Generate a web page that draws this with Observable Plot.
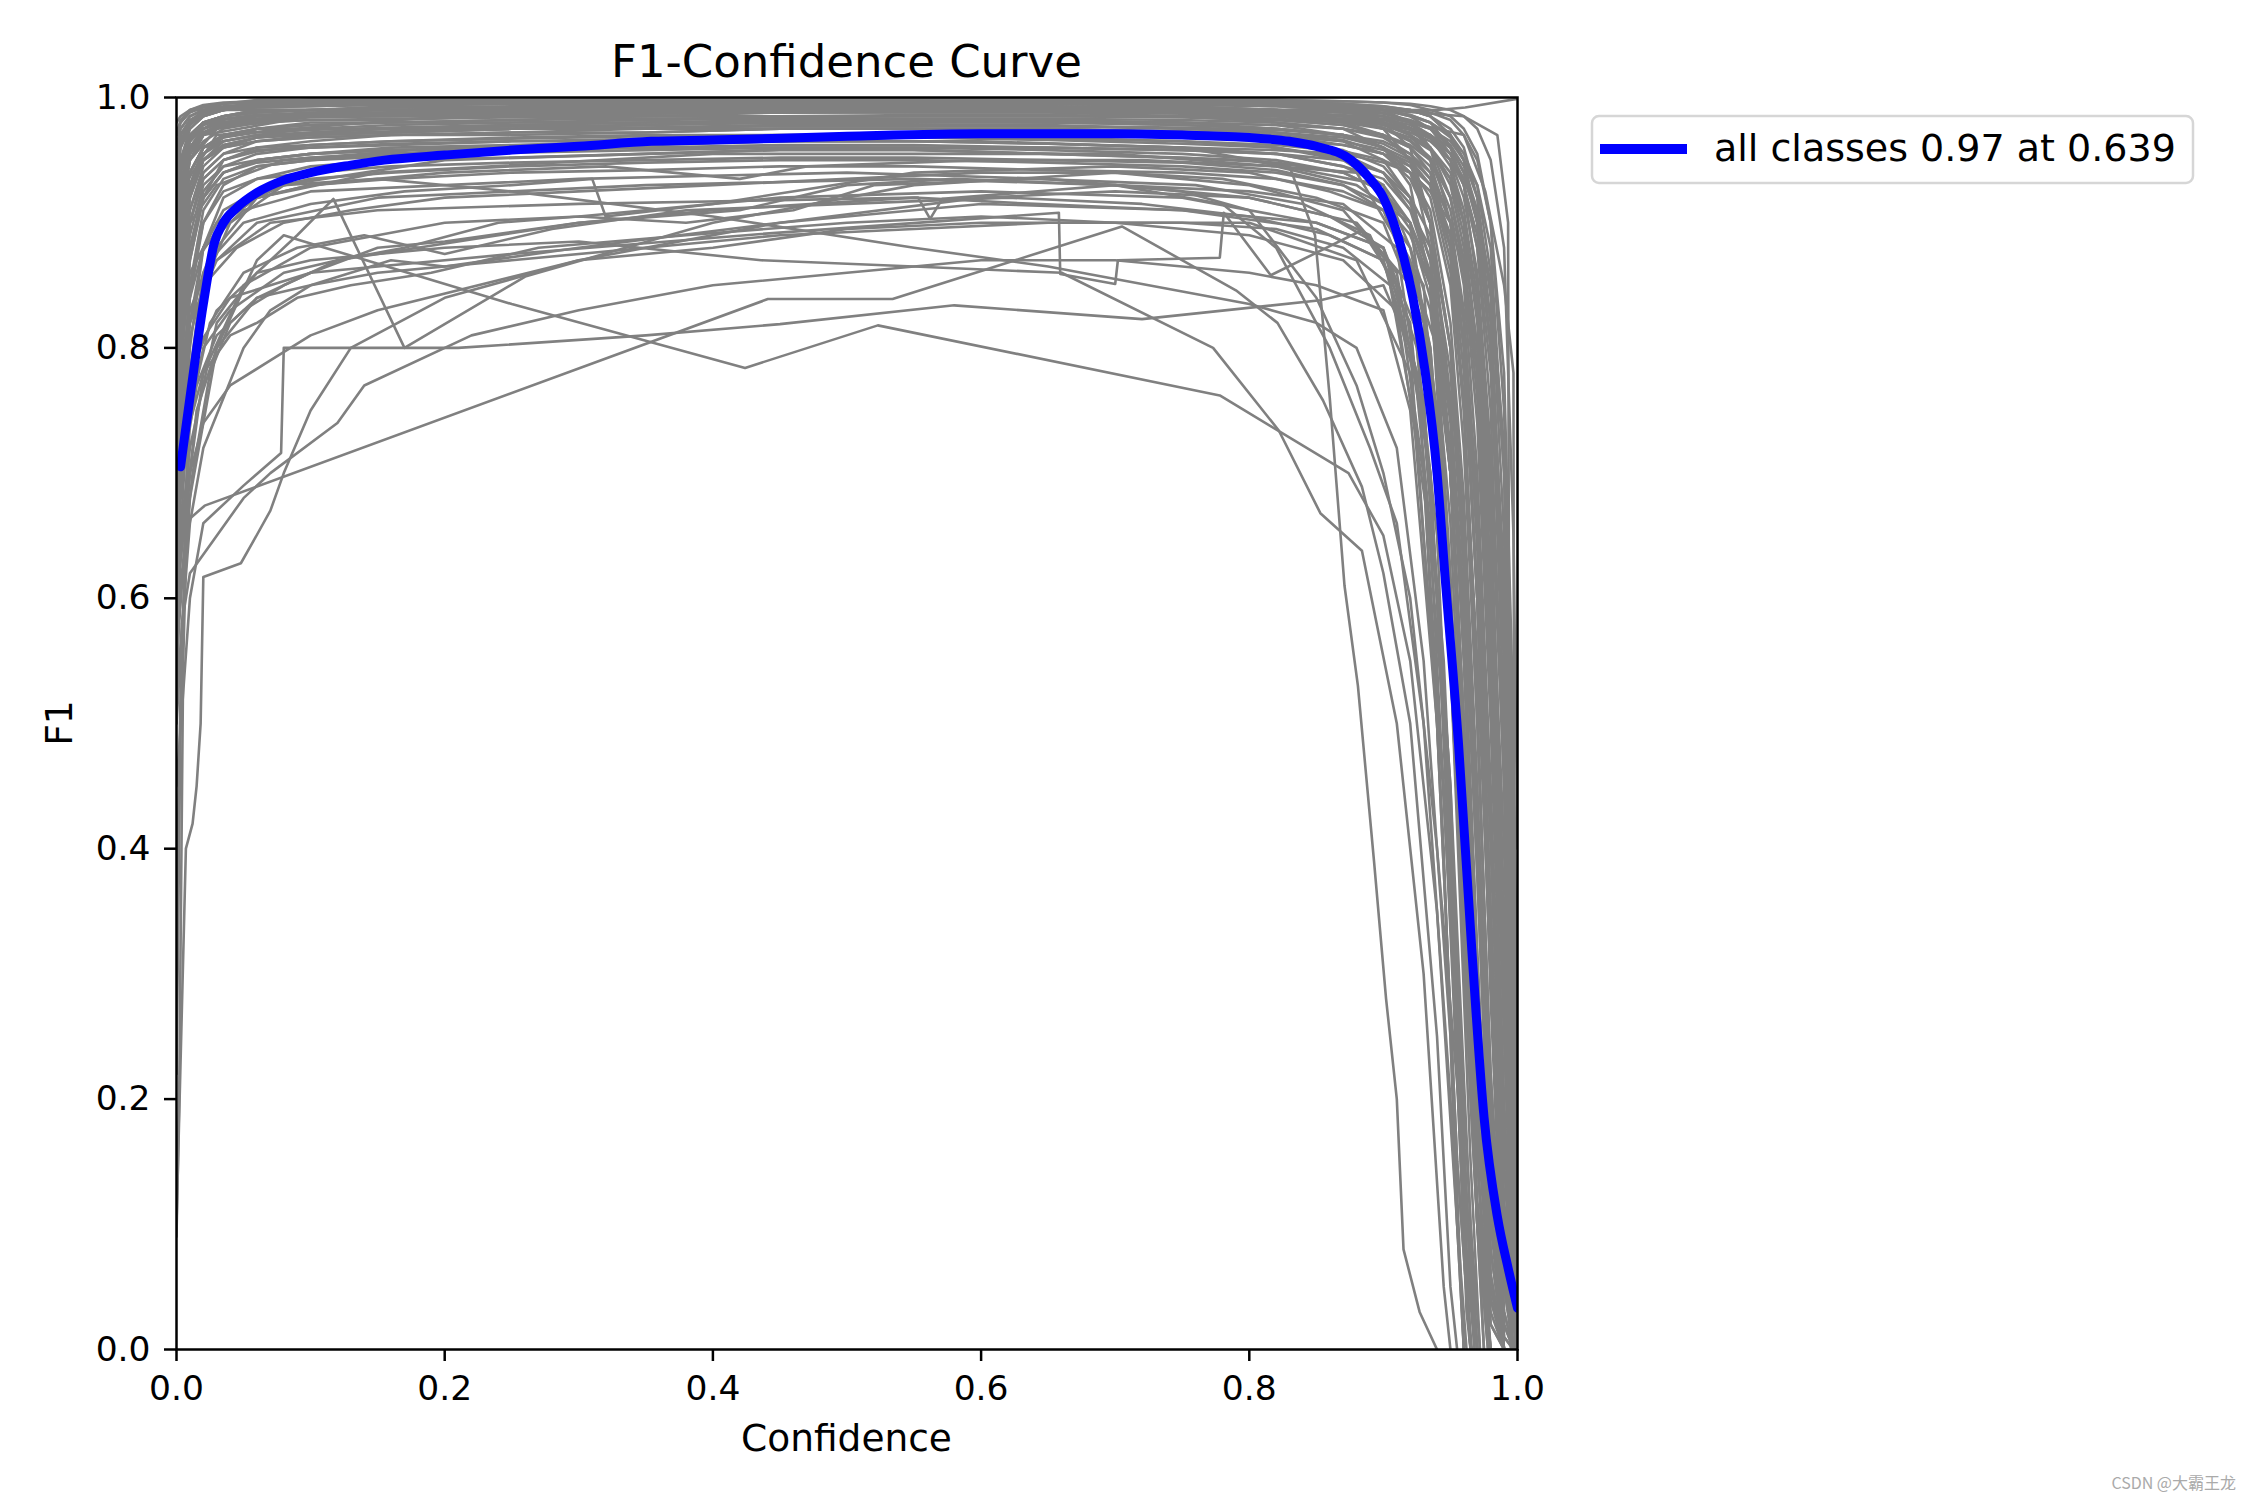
<!DOCTYPE html>
<html>
<head>
<meta charset="utf-8">
<script src="https://cdn.jsdelivr.net/npm/d3@7"></script>
<script src="https://cdn.jsdelivr.net/npm/@observablehq/plot@0.6"></script>
<style>
  html, body { margin: 0; padding: 0; background: #ffffff; }
  #chart svg { display: block; }
</style>
</head>
<body>
<div id="chart"></div>
<script>
// ---------- Data ----------
const xTicks = [0, 0.2, 0.4, 0.6, 0.8, 1.0];
const yTicks = [0, 0.2, 0.4, 0.6, 0.8, 1.0];
const legendLabel = "all classes 0.97 at 0.639";

// "all classes" curve
const allConf = [0.003, 0.01, 0.02, 0.028, 0.035, 0.045, 0.06, 0.08, 0.1, 0.13, 0.155, 0.2, 0.25, 0.3, 0.354, 0.4, 0.5, 0.6, 0.639, 0.7, 0.75, 0.8, 0.83, 0.85, 0.876, 0.89, 0.9, 0.913, 0.922, 0.931, 0.94, 0.946, 0.956, 0.966, 0.975, 0.985, 0.993, 1.0];
const allF1   = [0.705, 0.76, 0.835, 0.883, 0.9, 0.912, 0.924, 0.934, 0.94, 0.946, 0.95, 0.954, 0.958, 0.961, 0.965, 0.966, 0.969, 0.971, 0.971, 0.971, 0.970, 0.968, 0.965, 0.961, 0.95, 0.935, 0.92, 0.881, 0.84, 0.782, 0.70, 0.617, 0.484, 0.318, 0.186, 0.106, 0.065, 0.033];

// per-class curves sampled on a shared confidence grid
const confGrid = [0, 0.003, 0.01, 0.02, 0.035, 0.06, 0.1, 0.16, 0.25, 0.35, 0.45, 0.55, 0.65, 0.75, 0.82, 0.87, 0.9, 0.92, 0.935, 0.95, 0.96, 0.97, 0.98, 0.99, 0.997, 1.0];
const gridClassF1 = [
  [0.95,0.97,0.98,0.99,0.99,0.995,0.995,0.995,0.995,0.995,0.995,0.995,0.995,0.995,0.995,0.99,0.99,0.98,0.96,0.9,0.8,0.6,0.35,0.1,0.02,0],
  [0.9,0.94,0.97,0.98,0.985,0.99,0.99,0.99,0.99,0.992,0.992,0.992,0.992,0.99,0.99,0.985,0.98,0.97,0.95,0.88,0.75,0.5,0.22,0.05,0,0],
  [0.85,0.9,0.95,0.97,0.98,0.985,0.985,0.988,0.99,0.99,0.99,0.99,0.99,0.988,0.985,0.98,0.97,0.95,0.9,0.75,0.55,0.3,0.1,0,0,0],
  [0.97,0.98,0.99,0.99,0.995,0.998,0.998,0.998,0.998,0.998,0.998,0.998,0.998,0.998,0.995,0.995,0.99,0.99,0.985,0.97,0.95,0.9,0.8,0.55,0.2,0.05],
  [0.8,0.88,0.93,0.96,0.97,0.975,0.98,0.98,0.982,0.985,0.985,0.985,0.985,0.985,0.98,0.975,0.96,0.94,0.9,0.8,0.65,0.4,0.15,0.02,0,0],
  [0.75,0.85,0.92,0.95,0.965,0.97,0.975,0.975,0.978,0.98,0.98,0.98,0.982,0.98,0.978,0.97,0.96,0.93,0.85,0.6,0.35,0.12,0,0,0,0],
  [0.92,0.95,0.97,0.975,0.98,0.98,0.985,0.985,0.985,0.985,0.988,0.988,0.988,0.985,0.985,0.98,0.98,0.975,0.97,0.95,0.9,0.78,0.55,0.25,0.05,0],
  [0.7,0.8,0.88,0.92,0.95,0.96,0.965,0.97,0.97,0.972,0.975,0.975,0.975,0.972,0.97,0.965,0.95,0.92,0.85,0.7,0.5,0.25,0.05,0,0,0],
  [0.88,0.93,0.96,0.975,0.985,0.99,0.99,0.993,0.995,0.995,0.995,0.995,0.995,0.993,0.99,0.99,0.985,0.975,0.96,0.93,0.88,0.8,0.65,0.4,0.12,0.02],
  [0.65,0.78,0.87,0.92,0.94,0.95,0.955,0.96,0.962,0.965,0.965,0.968,0.968,0.965,0.96,0.95,0.93,0.88,0.8,0.6,0.4,0.18,0.03,0,0,0],
  [0.93,0.96,0.975,0.985,0.99,0.993,0.995,0.995,0.997,0.997,0.997,0.997,0.997,0.997,0.995,0.993,0.99,0.985,0.98,0.96,0.93,0.85,0.7,0.45,0.15,0.03],
  [0.82,0.9,0.94,0.96,0.97,0.975,0.975,0.978,0.98,0.98,0.982,0.982,0.98,0.98,0.975,0.97,0.96,0.95,0.93,0.86,0.75,0.55,0.3,0.08,0,0],
  [0.6,0.72,0.84,0.9,0.93,0.945,0.95,0.955,0.96,0.96,0.962,0.962,0.96,0.958,0.955,0.945,0.93,0.9,0.85,0.7,0.5,0.28,0.08,0,0,0],
  [0.96,0.975,0.985,0.99,0.992,0.995,0.995,0.997,0.997,0.997,0.998,0.998,0.998,0.997,0.997,0.995,0.993,0.99,0.985,0.975,0.96,0.92,0.82,0.6,0.3,0.08],
  [0.78,0.86,0.92,0.95,0.96,0.965,0.968,0.97,0.972,0.975,0.975,0.975,0.975,0.972,0.97,0.962,0.955,0.94,0.91,0.82,0.68,0.45,0.18,0.02,0,0],
  [0.87,0.92,0.955,0.97,0.978,0.983,0.985,0.985,0.987,0.988,0.99,0.99,0.99,0.988,0.985,0.982,0.975,0.965,0.95,0.91,0.85,0.7,0.45,0.15,0.02,0],
  [0.72,0.82,0.89,0.93,0.945,0.95,0.955,0.958,0.96,0.962,0.965,0.965,0.963,0.96,0.955,0.945,0.935,0.91,0.88,0.78,0.62,0.38,0.12,0,0,0],
  [0.9,0.94,0.965,0.978,0.985,0.988,0.99,0.99,0.99,0.99,0.99,0.99,0.99,0.99,0.99,0.985,0.98,0.97,0.96,0.94,0.9,0.82,0.62,0.3,0.06,0],
  [0.55,0.68,0.8,0.88,0.92,0.935,0.945,0.95,0.952,0.955,0.958,0.958,0.955,0.952,0.948,0.94,0.925,0.9,0.86,0.74,0.55,0.3,0.06,0,0,0],
  [0.94,0.965,0.98,0.988,0.99,0.992,0.993,0.995,0.995,0.995,0.995,0.995,0.995,0.995,0.993,0.99,0.988,0.98,0.97,0.95,0.92,0.86,0.72,0.48,0.2,0.05],
  [0.84,0.9,0.94,0.96,0.965,0.97,0.97,0.972,0.975,0.975,0.978,0.978,0.978,0.975,0.972,0.968,0.96,0.945,0.92,0.85,0.72,0.5,0.22,0.03,0,0],
  [0.68,0.8,0.88,0.92,0.94,0.948,0.952,0.955,0.958,0.96,0.96,0.96,0.96,0.958,0.955,0.95,0.94,0.92,0.89,0.8,0.66,0.42,0.15,0.01,0,0],
  [0.91,0.945,0.97,0.98,0.985,0.99,0.99,0.992,0.992,0.993,0.993,0.993,0.993,0.992,0.99,0.988,0.985,0.975,0.96,0.92,0.86,0.74,0.5,0.18,0.03,0],
  [0.76,0.85,0.91,0.94,0.955,0.96,0.962,0.965,0.968,0.97,0.97,0.97,0.97,0.968,0.965,0.958,0.945,0.92,0.87,0.72,0.5,0.24,0.04,0,0,0],
  [0.98,0.985,0.99,0.993,0.995,0.997,0.998,0.998,0.998,0.999,0.999,0.999,0.999,0.998,0.998,0.997,0.996,0.994,0.99,0.985,0.975,0.955,0.9,0.75,0.45,0.2],
  [0.62,0.75,0.85,0.9,0.925,0.935,0.94,0.945,0.948,0.95,0.952,0.952,0.95,0.948,0.942,0.93,0.91,0.87,0.8,0.6,0.38,0.15,0.02,0,0,0],
  [0.86,0.91,0.95,0.965,0.975,0.98,0.982,0.982,0.985,0.985,0.985,0.985,0.985,0.985,0.982,0.978,0.97,0.96,0.945,0.9,0.82,0.64,0.35,0.08,0,0],
  [0.79,0.87,0.93,0.955,0.965,0.97,0.972,0.975,0.975,0.978,0.98,0.98,0.98,0.978,0.975,0.97,0.965,0.955,0.94,0.9,0.83,0.66,0.4,0.12,0.02,0],
  [0.5,0.65,0.78,0.86,0.9,0.92,0.93,0.935,0.94,0.942,0.945,0.945,0.942,0.94,0.935,0.925,0.91,0.88,0.83,0.7,0.5,0.25,0.05,0,0,0],
  [0.95,0.97,0.982,0.988,0.99,0.993,0.995,0.995,0.995,0.996,0.996,0.996,0.996,0.995,0.994,0.992,0.99,0.985,0.975,0.955,0.93,0.88,0.78,0.55,0.25,0.06],
  [0.73,0.83,0.9,0.935,0.95,0.958,0.96,0.962,0.965,0.965,0.968,0.968,0.966,0.963,0.96,0.952,0.94,0.91,0.86,0.7,0.48,0.2,0.02,0,0,0],
  [0.89,0.93,0.96,0.972,0.98,0.985,0.987,0.988,0.99,0.99,0.99,0.99,0.99,0.988,0.986,0.983,0.978,0.97,0.96,0.935,0.89,0.8,0.6,0.28,0.05,0],
  [0.83,0.89,0.93,0.95,0.96,0.965,0.968,0.97,0.972,0.972,0.975,0.975,0.972,0.97,0.965,0.955,0.94,0.915,0.87,0.75,0.58,0.32,0.08,0,0,0],
  [0.97,0.98,0.988,0.992,0.995,0.996,0.997,0.997,0.997,0.998,0.998,0.998,0.998,0.997,0.996,0.995,0.993,0.99,0.985,0.97,0.95,0.9,0.8,0.62,0.35,0.12],
  [0.58,0.7,0.82,0.88,0.91,0.925,0.935,0.94,0.945,0.948,0.95,0.95,0.948,0.945,0.94,0.93,0.915,0.89,0.85,0.75,0.6,0.38,0.12,0,0,0],
  [0.8,0.88,0.93,0.955,0.968,0.975,0.978,0.98,0.982,0.983,0.984,0.985,0.985,0.984,0.982,0.978,0.97,0.96,0.94,0.88,0.78,0.6,0.32,0.06,0,0],
  [0.9,0.95,0.975,0.985,0.99,0.993,0.995,0.996,0.997,0.997,0.997,0.997,0.997,0.996,0.995,0.99,0.98,0.96,0.9,0.7,0.45,0.2,0.04,0,0,0],
  [0.85,0.92,0.96,0.975,0.982,0.986,0.988,0.99,0.99,0.99,0.99,0.99,0.99,0.99,0.988,0.985,0.98,0.975,0.97,0.96,0.94,0.9,0.8,0.5,0.15,0.03],
  [0.7,0.82,0.9,0.94,0.955,0.965,0.97,0.972,0.975,0.975,0.975,0.975,0.975,0.973,0.97,0.965,0.958,0.948,0.93,0.88,0.8,0.6,0.3,0.05,0,0],
  [0.95,0.97,0.98,0.985,0.99,0.99,0.99,0.992,0.993,0.993,0.995,0.995,0.995,0.993,0.99,0.985,0.975,0.95,0.88,0.62,0.35,0.1,0,0,0,0],
  [0.66,0.78,0.87,0.92,0.94,0.95,0.955,0.958,0.96,0.963,0.965,0.965,0.963,0.96,0.958,0.955,0.948,0.94,0.925,0.89,0.82,0.65,0.35,0.06,0,0],
  [0.88,0.93,0.965,0.98,0.985,0.988,0.99,0.99,0.992,0.992,0.993,0.993,0.993,0.992,0.99,0.988,0.985,0.98,0.975,0.965,0.95,0.93,0.88,0.7,0.35,0.1],
  [0.81,0.89,0.94,0.96,0.97,0.975,0.978,0.98,0.98,0.982,0.983,0.983,0.983,0.982,0.98,0.975,0.968,0.955,0.935,0.87,0.76,0.52,0.2,0.01,0,0],
  [0.74,0.84,0.91,0.945,0.96,0.968,0.972,0.975,0.977,0.978,0.98,0.98,0.98,0.978,0.975,0.97,0.96,0.94,0.9,0.76,0.56,0.3,0.06,0,0,0],
  [0.93,0.96,0.978,0.986,0.99,0.993,0.994,0.995,0.996,0.996,0.997,0.997,0.997,0.996,0.995,0.993,0.99,0.986,0.98,0.97,0.955,0.93,0.86,0.65,0.3,0.08],
  [0.6,0.74,0.85,0.91,0.935,0.945,0.95,0.953,0.956,0.958,0.96,0.96,0.958,0.955,0.95,0.94,0.925,0.895,0.84,0.66,0.42,0.15,0,0,0,0],
  [0.86,0.92,0.955,0.97,0.978,0.982,0.985,0.986,0.988,0.988,0.99,0.99,0.99,0.988,0.986,0.982,0.976,0.966,0.952,0.92,0.87,0.76,0.52,0.2,0.03,0],
  [0.77,0.86,0.92,0.95,0.962,0.968,0.97,0.972,0.975,0.976,0.978,0.978,0.977,0.975,0.972,0.966,0.955,0.935,0.9,0.8,0.64,0.4,0.12,0,0,0],
  [0.96,0.975,0.985,0.99,0.993,0.995,0.996,0.996,0.996,0.997,0.997,0.997,0.997,0.996,0.995,0.994,0.992,0.99,0.988,0.982,0.97,0.95,0.9,0.78,0.5,0.25],
  [0.92,0.95,0.97,0.98,0.985,0.988,0.99,0.99,0.991,0.991,0.992,0.992,0.992,0.991,0.99,0.988,0.985,0.98,0.975,0.96,0.94,0.9,0.82,0.6,0.3,0.1],
  [0.88,0.93,0.96,0.972,0.978,0.982,0.984,0.985,0.986,0.987,0.988,0.988,0.988,0.987,0.985,0.982,0.978,0.972,0.965,0.95,0.93,0.88,0.75,0.45,0.12,0.02],
  [0.83,0.9,0.94,0.96,0.968,0.972,0.974,0.976,0.978,0.98,0.98,0.981,0.981,0.98,0.978,0.975,0.97,0.962,0.95,0.92,0.87,0.78,0.58,0.25,0.04,0],
  [0.94,0.965,0.98,0.986,0.99,0.992,0.993,0.994,0.995,0.995,0.995,0.995,0.995,0.995,0.994,0.992,0.99,0.986,0.98,0.968,0.95,0.92,0.84,0.58,0.2,0.04],
  [0.9,0.94,0.965,0.975,0.98,0.983,0.985,0.986,0.987,0.988,0.988,0.989,0.989,0.988,0.987,0.985,0.982,0.976,0.968,0.945,0.91,0.84,0.68,0.35,0.07,0],
  [0.71,0.82,0.9,0.935,0.95,0.957,0.962,0.965,0.967,0.969,0.97,0.97,0.97,0.968,0.966,0.962,0.955,0.945,0.93,0.89,0.82,0.68,0.42,0.1,0,0],
  [0.97,0.982,0.99,0.994,0.996,0.997,0.998,0.998,0.998,0.998,0.998,0.998,0.998,0.998,0.998,0.997,0.996,0.995,0.993,0.99,0.985,0.975,0.95,0.88,0.65,0.4],
  [0.86,0.92,0.955,0.97,0.977,0.98,0.982,0.983,0.984,0.985,0.985,0.986,0.986,0.985,0.983,0.98,0.975,0.968,0.958,0.935,0.9,0.83,0.66,0.3,0.05,0],
  [0.79,0.87,0.925,0.95,0.962,0.968,0.971,0.973,0.975,0.976,0.977,0.977,0.977,0.976,0.974,0.97,0.963,0.952,0.935,0.89,0.8,0.6,0.28,0.03,0,0],
  [0.95,0.97,0.982,0.988,0.991,0.993,0.994,0.994,0.995,0.995,0.995,0.995,0.995,0.994,0.993,0.99,0.987,0.982,0.976,0.962,0.945,0.91,0.85,0.72,0.45,0.15],
  [0.91,0.945,0.968,0.978,0.983,0.986,0.987,0.988,0.989,0.99,0.99,0.99,0.99,0.989,0.988,0.986,0.983,0.978,0.97,0.955,0.93,0.89,0.8,0.55,0.18,0.02],
  [0.69,0.8,0.88,0.925,0.945,0.955,0.96,0.963,0.965,0.967,0.968,0.968,0.967,0.965,0.962,0.957,0.95,0.94,0.925,0.9,0.86,0.78,0.6,0.3,0.05,0],
  [0.87,0.925,0.958,0.972,0.979,0.983,0.985,0.986,0.987,0.988,0.989,0.989,0.989,0.988,0.986,0.983,0.979,0.974,0.967,0.955,0.935,0.905,0.85,0.7,0.4,0.15]
];

// per-class curves with their own [confidence, F1] points
const pointClassF1 = [
  [[0,0.55],[0.01,0.7],[0.02,0.78],[0.05,0.85],[0.1,0.88],[0.2,0.9],[0.3,0.905],[0.45,0.92],[0.6,0.925],[0.75,0.92],[0.85,0.9],[0.9,0.88],[0.93,0.8],[0.95,0.55],[0.965,0.2],[0.975,0]],
  [[0,0.7],[0.02,0.8],[0.04,0.83],[0.08,0.86],[0.12,0.87],[0.18,0.88],[0.3,0.9],[0.42,0.91],[0.5,0.93],[0.58,0.935],[0.7,0.93],[0.8,0.92],[0.88,0.9],[0.92,0.85],[0.94,0.65],[0.955,0.3],[0.965,0.05],[0.97,0]],
  [[0,0.6],[0.015,0.75],[0.03,0.8],[0.06,0.84],[0.1,0.86],[0.15,0.88],[0.2,0.885],[0.3,0.9],[0.4,0.91],[0.55,0.92],[0.64,0.915],[0.75,0.91],[0.85,0.895],[0.9,0.87],[0.93,0.75],[0.95,0.45],[0.96,0.15],[0.97,0]],
  [[0,0.62],[0.01,0.72],[0.03,0.82],[0.06,0.86],[0.09,0.89],[0.117,0.919],[0.17,0.80],[0.26,0.857],[0.4,0.9],[0.55,0.93],[0.7,0.94],[0.8,0.93],[0.87,0.91],[0.91,0.86],[0.935,0.7],[0.95,0.4],[0.96,0.1],[0.968,0]],
  [[0,0.5],[0.01,0.68],[0.03,0.8],[0.06,0.87],[0.08,0.89],[0.092,0.886],[0.25,0.835],[0.424,0.784],[0.523,0.818],[0.778,0.762],[0.874,0.70],[0.9,0.65],[0.92,0.55],[0.94,0.35],[0.955,0.1],[0.96,0]],
  [[0,0.45],[0.01,0.6],[0.02,0.66],[0.05,0.69],[0.078,0.716],[0.08,0.8],[0.21,0.80],[0.35,0.81],[0.45,0.819],[0.58,0.834],[0.72,0.823],[0.853,0.838],[0.884,0.846],[0.9,0.85],[0.92,0.8],[0.94,0.5],[0.955,0.15],[0.965,0]],
  [[0,0.6],[0.006,0.66],[0.021,0.674],[0.441,0.839],[0.534,0.839],[0.705,0.897],[0.79,0.846],[0.821,0.82],[0.855,0.758],[0.884,0.689],[0.9,0.62],[0.92,0.5],[0.94,0.25],[0.95,0.05],[0.955,0]],
  [[0,0.35],[0.004,0.58],[0.01,0.62],[0.03,0.65],[0.05,0.68],[0.07,0.7],[0.12,0.74],[0.14,0.77],[0.22,0.81],[0.3,0.83],[0.4,0.85],[0.5,0.86],[0.6,0.87],[0.7,0.87],[0.8,0.86],[0.85,0.85],[0.9,0.83],[0.92,0.75],[0.94,0.5],[0.955,0.15],[0.965,0]],
  [[0,0.09],[0.002,0.2],[0.005,0.55],[0.01,0.75],[0.02,0.85],[0.04,0.9],[0.08,0.93],[0.2,0.95],[0.5,0.96],[0.8,0.95],[0.9,0.93],[0.94,0.8],[0.96,0.4],[0.975,0.05],[0.98,0]],
  [[0,0.22],[0.003,0.5],[0.008,0.72],[0.015,0.82],[0.03,0.88],[0.06,0.92],[0.15,0.94],[0.4,0.955],[0.7,0.955],[0.88,0.94],[0.93,0.85],[0.955,0.5],[0.97,0.1],[0.978,0]],
  [[0,0.1],[0.007,0.4],[0.012,0.42],[0.015,0.45],[0.018,0.5],[0.02,0.617],[0.048,0.628],[0.057,0.645],[0.07,0.67],[0.08,0.7],[0.1,0.75],[0.13,0.8],[0.2,0.84],[0.3,0.87],[0.4,0.88],[0.5,0.895],[0.6,0.9],[0.7,0.9],[0.8,0.9],[0.88,0.87],[0.92,0.78],[0.945,0.45],[0.96,0.1],[0.965,0]],
  [[0,0.75],[0.01,0.82],[0.03,0.87],[0.07,0.9],[0.15,0.91],[0.3,0.915],[0.45,0.918],[0.553,0.92],[0.562,0.903],[0.571,0.919],[0.7,0.93],[0.8,0.925],[0.87,0.915],[0.91,0.88],[0.935,0.7],[0.95,0.4],[0.962,0.08],[0.97,0]],
  [[0,0.72],[0.015,0.8],[0.04,0.84],[0.1,0.86],[0.25,0.875],[0.436,0.891],[0.658,0.908],[0.659,0.859],[0.70,0.851],[0.702,0.87],[0.778,0.872],[0.781,0.908],[0.816,0.858],[0.884,0.894],[0.91,0.85],[0.93,0.7],[0.945,0.4],[0.955,0.1],[0.962,0]],
  [[0,0.68],[0.01,0.78],[0.03,0.83],[0.06,0.86],[0.1,0.87],[0.2,0.88],[0.3,0.885],[0.436,0.87],[0.55,0.865],[0.66,0.86],[0.773,0.80],[0.822,0.734],[0.853,0.668],[0.884,0.638],[0.91,0.5],[0.93,0.3],[0.945,0.05],[0.95,0]],
  [[0,0.8],[0.02,0.88],[0.05,0.91],[0.1,0.925],[0.3,0.935],[0.5,0.94],[0.65,0.935],[0.75,0.925],[0.8,0.91],[0.85,0.84],[0.88,0.77],[0.9,0.7],[0.92,0.6],[0.94,0.4],[0.96,0.15],[0.97,0]],
  [[0,0.78],[0.02,0.86],[0.06,0.9],[0.15,0.92],[0.35,0.93],[0.55,0.935],[0.7,0.93],[0.78,0.915],[0.82,0.88],[0.86,0.8],[0.89,0.72],[0.91,0.66],[0.93,0.5],[0.95,0.2],[0.96,0]],
  [[0,0.85],[0.01,0.9],[0.03,0.93],[0.08,0.95],[0.2,0.96],[0.4,0.965],[0.6,0.965],[0.75,0.96],[0.83,0.945],[0.849,0.89],[0.86,0.76],[0.871,0.61],[0.881,0.53],[0.893,0.39],[0.902,0.28],[0.91,0.2],[0.915,0.08],[0.927,0.03],[0.94,0]],
  [[0,0.9],[0.01,0.95],[0.03,0.975],[0.1,0.985],[0.3,0.99],[0.6,0.99],[0.85,0.99],[0.94,0.99],[0.961,0.992],[1.0,0.999]],
  [[0,0.93],[0.02,0.97],[0.1,0.985],[0.5,0.99],[0.9,0.99],[0.96,0.985],[0.985,0.97],[0.993,0.9],[0.994,0.4],[0.995,0]],
  [[0,0.92],[0.03,0.97],[0.2,0.985],[0.6,0.99],[0.9,0.985],[0.96,0.97],[0.976,0.925],[0.99,0.85],[0.997,0.78],[0.998,0]],
  [[0,0.65],[0.01,0.75],[0.025,0.82],[0.05,0.86],[0.09,0.88],[0.14,0.89],[0.2,0.875],[0.28,0.895],[0.38,0.91],[0.5,0.915],[0.62,0.92],[0.72,0.915],[0.8,0.905],[0.86,0.89],[0.9,0.87],[0.925,0.78],[0.945,0.5],[0.96,0.15],[0.968,0]],
  [[0,0.72],[0.008,0.8],[0.02,0.85],[0.045,0.88],[0.08,0.9],[0.13,0.91],[0.2,0.92],[0.3,0.925],[0.4,0.93],[0.5,0.935],[0.6,0.94],[0.7,0.94],[0.78,0.935],[0.85,0.92],[0.9,0.9],[0.93,0.82],[0.95,0.55],[0.965,0.2],[0.975,0]],
  [[0,0.58],[0.012,0.7],[0.025,0.78],[0.04,0.82],[0.06,0.84],[0.1,0.85],[0.15,0.86],[0.25,0.87],[0.35,0.88],[0.45,0.89],[0.55,0.895],[0.65,0.9],[0.75,0.9],[0.82,0.895],[0.87,0.88],[0.905,0.85],[0.93,0.7],[0.95,0.35],[0.962,0.05],[0.966,0]],
  [[0,0.8],[0.01,0.86],[0.03,0.9],[0.06,0.92],[0.1,0.93],[0.2,0.94],[0.32,0.945],[0.42,0.935],[0.47,0.945],[0.6,0.95],[0.72,0.95],[0.82,0.945],[0.88,0.93],[0.92,0.9],[0.94,0.75],[0.955,0.45],[0.97,0.1],[0.978,0]],
  [[0,0.67],[0.015,0.77],[0.03,0.81],[0.05,0.83],[0.08,0.85],[0.12,0.87],[0.17,0.88],[0.24,0.9],[0.3,0.905],[0.38,0.9],[0.46,0.91],[0.52,0.93],[0.64,0.935],[0.76,0.93],[0.84,0.915],[0.89,0.89],[0.92,0.82],[0.94,0.6],[0.955,0.25],[0.965,0]],
  [[0,0.76],[0.01,0.83],[0.025,0.87],[0.05,0.9],[0.1,0.915],[0.17,0.925],[0.25,0.93],[0.31,0.935],[0.32,0.905],[0.4,0.915],[0.55,0.94],[0.7,0.945],[0.8,0.94],[0.86,0.925],[0.9,0.91],[0.93,0.83],[0.95,0.55],[0.965,0.15],[0.972,0]],
  [[0,0.8],[0.015,0.87],[0.04,0.91],[0.08,0.93],[0.15,0.935],[0.25,0.925],[0.4,0.905],[0.55,0.88],[0.65,0.865],[0.75,0.845],[0.8,0.835],[0.85,0.82],[0.88,0.8],[0.91,0.72],[0.93,0.55],[0.95,0.25],[0.96,0]],
  [[0,0.62],[0.01,0.7],[0.02,0.74],[0.04,0.77],[0.07,0.79],[0.1,0.81],[0.15,0.83],[0.3,0.87],[0.45,0.9],[0.6,0.92],[0.7,0.925],[0.8,0.92],[0.86,0.905],[0.9,0.88],[0.925,0.8],[0.945,0.55],[0.96,0.2],[0.97,0]],
  [[0,0.52],[0.01,0.66],[0.02,0.72],[0.035,0.76],[0.05,0.8],[0.07,0.83],[0.1,0.85],[0.13,0.86],[0.16,0.87],[0.2,0.865],[0.3,0.88],[0.45,0.9],[0.6,0.915],[0.75,0.91],[0.85,0.9],[0.9,0.88],[0.93,0.76],[0.95,0.45],[0.965,0.1],[0.972,0]],
  [[0,0.66],[0.01,0.74],[0.02,0.78],[0.04,0.81],[0.06,0.82],[0.09,0.84],[0.13,0.85],[0.19,0.86],[0.27,0.88],[0.38,0.89],[0.5,0.9],[0.6,0.905],[0.7,0.9],[0.8,0.89],[0.87,0.87],[0.91,0.83],[0.935,0.65],[0.952,0.3],[0.962,0.03],[0.965,0]]
];

// ---------- Build tables ----------
const classRows = [];
const badRows = [];
gridClassF1.forEach((vals, i) => {
  if (vals.length !== confGrid.length) badRows.push("g" + i + ":" + vals.length);
  vals.forEach((v, j) => { if (j < confGrid.length) classRows.push({cls: "g" + i, conf: confGrid[j], f1: v}); });
});
pointClassF1.forEach((pts, i) => {
  pts.forEach(([c, v]) => classRows.push({cls: "p" + i, conf: c, f1: v}));
});
const allRows = allConf.map((c, i) => ({conf: c, f1: allF1[i]}));

// ---------- Layout ----------
const W = 2250, H = 1500;
const mL = 176, mR = 733, mT = 97, mB = 151;
const FONT = "DejaVu Sans, Liberation Sans, sans-serif";

const chart = Plot.plot({
  width: W,
  height: H,
  marginLeft: mL,
  marginRight: mR,
  marginTop: mT,
  marginBottom: mB,
  style: {fontFamily: FONT, fontSize: "34.5px", color: "#000", background: "#fff", overflow: "visible"},
  x: {domain: [0, 1]},
  y: {domain: [0, 1]},
  marks: [
    Plot.line(classRows, {x: "conf", y: "f1", z: "cls", stroke: "#808080", strokeWidth: 2.6, clip: true}),
    Plot.line(allRows, {x: "conf", y: "f1", stroke: "#0000ff", strokeWidth: 9, curve: "monotone-x", clip: true}),
    Plot.axisX({ticks: xTicks, tickFormat: d3.format(".1f"), tickSize: 12, tickPadding: 14, strokeWidth: 2.5, fontSize: 34.5, label: null}),
    Plot.axisY({ticks: yTicks, tickFormat: d3.format(".1f"), tickSize: 12, tickPadding: 14, strokeWidth: 2.5, fontSize: 34.5, label: null}),
    Plot.frame({stroke: "#000", strokeWidth: 2.5})
  ]
});

const svg = d3.select(chart);
const cx = (mL + (W - mR)) / 2;

// title
svg.append("text").attr("x", cx).attr("y", 77).attr("text-anchor", "middle")
  .attr("font-family", FONT).attr("font-size", 45).attr("fill", "#000").text("F1-Confidence Curve");
// axis labels
svg.append("text").attr("x", cx).attr("y", 1451).attr("text-anchor", "middle")
  .attr("font-family", FONT).attr("font-size", 37.5).attr("fill", "#000").text("Confidence");
svg.append("text").attr("transform", `translate(72, ${(mT + H - mB) / 2}) rotate(-90)`).attr("text-anchor", "middle")
  .attr("font-family", FONT).attr("font-size", 37.5).attr("fill", "#000").text("F1");

// legend
const lg = svg.append("g");
lg.append("rect").attr("x", 1592).attr("y", 116).attr("width", 601).attr("height", 67).attr("rx", 7)
  .attr("fill", "#fff").attr("stroke", "#d6d6d6").attr("stroke-width", 2.5);
lg.append("line").attr("x1", 1600).attr("x2", 1687).attr("y1", 149).attr("y2", 149)
  .attr("stroke", "#0000ff").attr("stroke-width", 10);
lg.append("text").attr("x", 1714).attr("y", 161).attr("text-anchor", "start").attr("font-family", FONT).attr("font-size", 38)
  .attr("fill", "#000").text(legendLabel);

// watermark
svg.append("text").attr("x", 2236).attr("y", 1489).attr("text-anchor", "end")
  .attr("font-family", "Noto Sans CJK SC, DejaVu Sans, sans-serif").attr("font-size", 16).attr("fill", "#aaaaaa")
  .text("CSDN @大霸王龙");

if (badRows.length) {
  svg.append("text").attr("x", 1600).attr("y", 400).attr("text-anchor", "start").attr("fill", "red").attr("font-size", 30).text("BAD " + badRows.join(" "));
}

document.getElementById("chart").appendChild(chart);
</script>
</body>
</html>
